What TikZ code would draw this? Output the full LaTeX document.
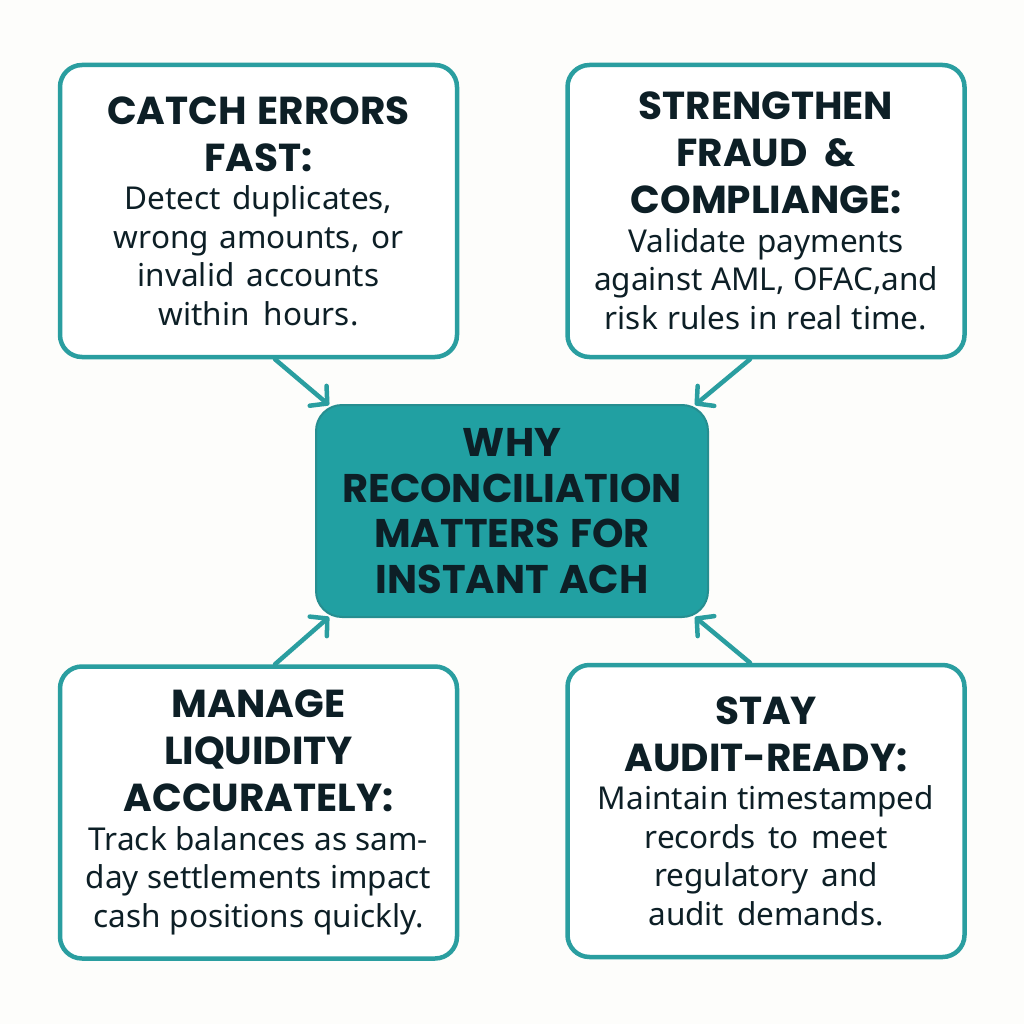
\documentclass[tikz,border=0pt]{standalone}
\usepackage{fontspec}
\setmainfont{Poppins}
\newfontfamily\bodyfont{Noto Sans}
\usetikzlibrary{arrows.meta}
\definecolor{teal1}{HTML}{2A9EA0}
\definecolor{tealfill}{HTML}{21A0A2}
\definecolor{ink}{HTML}{0D1F26}
\definecolor{bg}{HTML}{FDFDFB}
\tikzset{
  x=1pt, y=-1pt,
  card/.style={draw=teal1, line width=4.5pt, rounded corners=22pt, fill=white,
    minimum width=397pt, minimum height=292pt, align=center, text=ink, inner sep=0pt,
    text width=390pt},
  hub/.style={draw=teal1!90!black, line width=2pt, rounded corners=26pt, fill=tealfill,
    minimum width=392pt, minimum height=212pt, align=center, text=ink, inner sep=0pt,
    text width=385pt},
  arr/.style={draw=teal1, line width=4.5pt, line cap=round,
    -{Straight Barb[length=12pt, width=26pt, line width=4.5pt, round]}},
}
\newcommand\ttlfont{\fontsize{39}{47}\selectfont\bfseries\spaceskip=0.17em plus 0.05em\relax}
\newcommand\bdfont{\bodyfont\fontsize{31.5}{38.5}\selectfont\spaceskip=0.21em plus 0.05em\relax}
\begin{document}
\begin{tikzpicture}
\useasboundingbox[fill=bg] (0,0) rectangle (1024,1024);
\node[card] (tl) at (258.5,211) {{\ttlfont CATCH ERRORS\\FAST:\par}
  {\bdfont Detect duplicates,\\wrong amounts, or\\invalid accounts\hspace*{22pt}\\within hours.\par}};
\node[card] (tr) at (766,211) {{\ttlfont STRENGTHEN\\FRAUD \&\\COMPLIANGE:\par}
  {\bdfont Validate payments\hspace*{14pt}\\against AML, OFAC,and\\risk rules in real time.\par}};
\node[card] (bl) at (258.5,812.5) {{\ttlfont MANAGE\\LIQUIDITY\\ACCURATELY:\par}
  {\bdfont Track balances as sam-\\day settlements impact\\cash positions quickly.\par}};
\node[card] (br) at (766,811) {{\ttlfont STAY\\AUDIT-READY:\par}
  {\bdfont Maintain timestamped\\records to meet\hspace*{16pt}\\regulatory and\hspace*{12pt}\\audit demands.\par}};
\node[hub] (c) at (512,511) {\fontsize{40}{45.5}\selectfont\bfseries\spaceskip=0.26em\relax WHY\\RECONCILIATION\\MATTERS FOR\\INSTANT ACH\par};
\draw[arr] ([xshift=16.5pt]tl.south) -- ([xshift=14pt,yshift=-1pt]c.north west);
\draw[arr] ([xshift=-16pt]tr.south) -- ([xshift=-14pt,yshift=-1pt]c.north east);
\draw[arr] ([xshift=16.5pt]bl.north) -- ([xshift=14pt,yshift=1pt]c.south west);
\draw[arr] ([xshift=-16pt]br.north) -- ([xshift=-14pt,yshift=1pt]c.south east);
\end{tikzpicture}
\end{document}
